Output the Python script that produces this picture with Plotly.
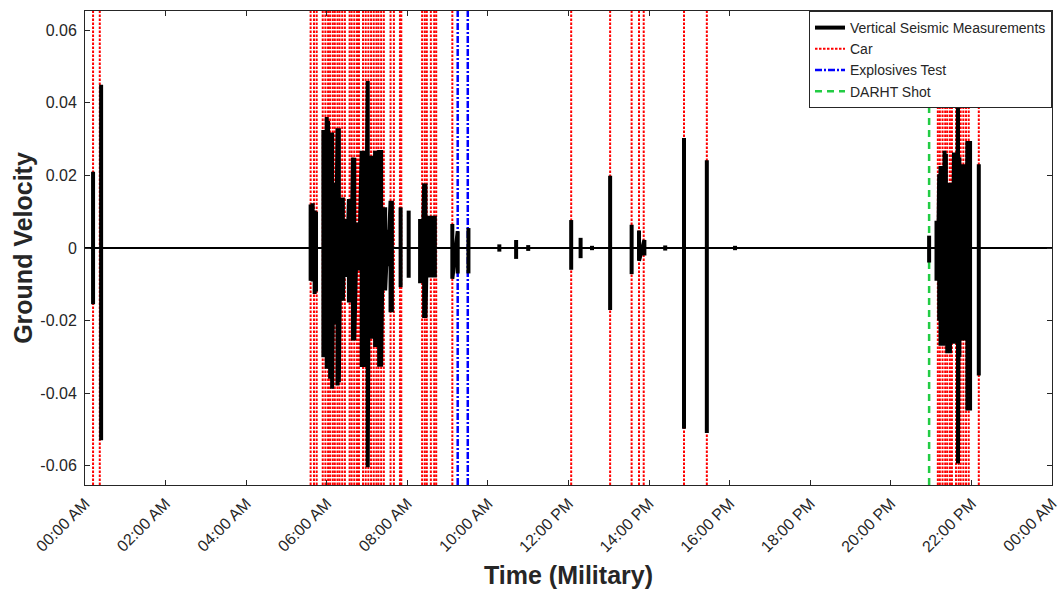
import plotly.graph_objects as go

DAY = "2020-01-01"
NEXT_DAY = "2020-01-02"

# Event marker times (HH:MM)
car_times = ["00:12", "00:22",
             "05:36", "05:41", "05:45", "05:54", "05:58", "06:02", "06:05", "06:09", "06:12",
             "06:16", "06:19", "06:23", "06:27", "06:34", "06:37", "06:41", "06:45", "06:48",
             "06:54", "06:58", "07:02", "07:06", "07:10", "07:14", "07:17", "07:21", "07:25",
             "07:35", "07:40", "07:49", "07:51", "08:22", "08:26", "08:29", "08:35", "08:40",
             "08:43", "09:07", "12:04", "13:02", "13:34", "13:45", "13:52", "14:52", "15:26",
             "21:10", "21:13", "21:17", "21:21", "21:24", "21:28", "21:31",
             "21:37", "21:41", "21:44", "21:48", "21:52", "21:56", "22:11"]
explosive_times = ["09:15", "09:30"]
darht_times = ["20:57"]

# Seismic bursts: time, positive peak, negative peak
burst_times = ["00:12", "00:24",
               "05:36", "05:39", "05:42", "05:44",
               "05:55", "05:57", "06:00", "06:02", "06:05", "06:08", "06:11", "06:13", "06:16",
               "06:18", "06:21", "06:24", "06:27", "06:30", "06:33", "06:36", "06:39", "06:41",
               "06:45", "06:48", "06:52", "06:55", "06:58", "07:01", "07:03", "07:06", "07:09",
               "07:12", "07:15", "07:18", "07:21", "07:24", "07:27", "07:31", "07:35", "07:37",
               "07:50", "08:02",
               "08:19", "08:22", "08:25", "08:27", "08:30", "08:33", "08:36", "08:39", "08:41",
               "09:07", "09:15", "09:31",
               "10:17", "10:42", "11:00", "12:04", "12:18", "12:35", "13:02", "13:34", "13:45",
               "13:53", "14:24", "14:52", "15:26", "16:08",
               "20:57",
               "21:08", "21:10", "21:12", "21:14", "21:16", "21:18", "21:20", "21:22", "21:24",
               "21:26", "21:28", "21:30", "21:32", "21:34", "21:36", "21:38", "21:40", "21:42",
               "21:44", "21:46", "21:48", "21:50", "21:52", "21:54", "21:56", "21:58",
               "22:11"]
burst_max = [0.021, 0.045,
             0.012, 0.0123, 0.0103, 0.010,
             0.0325, 0.032, 0.0361, 0.035, 0.030, 0.0318, 0.018, 0.018, 0.033,
             0.033, 0.0139, 0.0139, 0.008, 0.006, 0.0135, 0.0135, 0.0249, 0.0249,
             0.007, 0.007, 0.0268, 0.0268, 0.012, 0.046, 0.015, 0.0254, 0.0254,
             0.0268, 0.0268, 0.027, 0.027, 0.0112, 0.0112, 0.005, 0.013, 0.013,
             0.0112, 0.0103,
             0.008, 0.008, 0.0178, 0.0178, 0.0089, 0.0089, 0.0089, 0.0089, 0.0089,
             0.0066, 0.0046, 0.0055,
             0.001, 0.0022, 0.0008, 0.0077, 0.0028, 0.0006, 0.0199, 0.0064, 0.0048,
             0.0022, 0.0007, 0.0303, 0.0242, 0.0006,
             0.0034,
             0.0075, 0.0075, 0.0203, 0.0226, 0.022, 0.0226, 0.0268, 0.026, 0.018,
             0.017, 0.018, 0.0093, 0.009, 0.0263, 0.026, 0.026, 0.0405, 0.025,
             0.0231, 0.023, 0.0231, 0.0149, 0.0149, 0.0295, 0.029, 0.0295,
             0.0231]
burst_min = [-0.0155, -0.053,
             -0.009, -0.0092, -0.0127, -0.012,
             -0.0301, -0.030, -0.0333, -0.033, -0.036, -0.0388, -0.021, -0.021, -0.0379,
             -0.037, -0.0145, -0.0145, -0.008, -0.006, -0.015, -0.015, -0.0255, -0.0255,
             -0.0062, -0.0062, -0.0328, -0.0328, -0.015, -0.0604, -0.020, -0.025, -0.025,
             -0.0273, -0.0273, -0.0327, -0.0327, -0.0117, -0.0117, -0.005, -0.0177, -0.0177,
             -0.0108, -0.0082,
             -0.0097, -0.0097, -0.0193, -0.0193, -0.0081, -0.0081, -0.0081, -0.0081, -0.0081,
             -0.0085, -0.007, -0.007,
             -0.001, -0.003, -0.0008, -0.006, -0.0028, -0.0006, -0.0171, -0.0072, -0.0035,
             -0.0021, -0.0007, -0.0498, -0.051, -0.0006,
             -0.004,
             -0.009, -0.009, -0.020, -0.0269, -0.026, -0.0269, -0.0255, -0.025, -0.029,
             -0.028, -0.029, -0.017, -0.016, -0.0264, -0.026, -0.026, -0.0594, -0.030,
             -0.0255, -0.025, -0.0255, -0.0163, -0.0163, -0.0448, -0.044, -0.0448,
             -0.0351]

y_ticks = [-0.06, -0.04, -0.02, 0, 0.02, 0.04, 0.06]
y_tick_labels = ["-0.06", "-0.04", "-0.02", "0", "0.02", "0.04", "0.06"]
x_tick_hours = ["00:00", "02:00", "04:00", "06:00", "08:00", "10:00", "12:00",
                "14:00", "16:00", "18:00", "20:00", "22:00"]
x_tick_labels = ["00:00 AM", "02:00 AM", "04:00 AM", "06:00 AM", "08:00 AM", "10:00 AM",
                 "12:00 PM", "14:00 PM", "16:00 PM", "18:00 PM", "20:00 PM", "22:00 PM",
                 "00:00 AM"]

Y_LO, Y_HI = -0.0653, 0.0653
FONT = "Liberation Sans, Arial, Helvetica, sans-serif"


def ts(hhmm, day=DAY):
    return f"{day} {hhmm}"


def minutes(hhmm):
    h, m = hhmm.split(":")
    return int(h) * 60 + int(m)


def vlines(times):
    xs, ys = [], []
    for t in times:
        xs += [ts(t), ts(t), None]
        ys += [Y_LO, Y_HI, None]
    return xs, ys


fig = go.Figure()

cx, cy = vlines(car_times)
fig.add_trace(go.Scatter(x=cx, y=cy, mode="lines", name="Car", legendrank=2,
                         line=dict(color="#ff0000", width=2, dash="2.5px,1.5px"),
                         hoverinfo="skip"))
ex, ey = vlines(explosive_times)
fig.add_trace(go.Scatter(x=ex, y=ey, mode="lines", name="Explosives Test", legendrank=3,
                         line=dict(color="#0000ff", width=2.5, dash="7px,2px,2px,2px"),
                         hoverinfo="skip"))
dx, dy = vlines(darht_times)
fig.add_trace(go.Scatter(x=dx, y=dy, mode="lines", name="DARHT Shot", legendrank=4,
                         line=dict(color="#22cc44", width=2.5, dash="7px,5px"),
                         hoverinfo="skip"))

# thin baseline of the seismic record
fig.add_trace(go.Scatter(x=[ts("00:00"), ts("00:00", NEXT_DAY)], y=[0, 0], mode="lines",
                         line=dict(color="black", width=2), showlegend=False,
                         hoverinfo="skip"))

# bursts, connected within clusters
sx, sy = [], []
prev = None
for t, hi, lo in zip(burst_times, burst_max, burst_min):
    if prev is not None and minutes(t) - minutes(prev) > 8:
        sx.append(None)
        sy.append(None)
    sx += [ts(t), ts(t)]
    sy += [hi, lo]
    prev = t
fig.add_trace(go.Scatter(x=sx, y=sy, mode="lines", name="Vertical Seismic Measurements",
                         legendrank=1, line=dict(color="black", width=4),
                         hoverinfo="skip"))

tickvals = [ts(h) for h in x_tick_hours] + [ts("00:00", NEXT_DAY)]

axis_common = dict(showline=True, linecolor="#262626", linewidth=1, mirror="ticks",
                   ticks="inside", ticklen=5, tickcolor="#262626", showgrid=False,
                   zeroline=False, automargin=False,
                   tickfont=dict(family=FONT, size=16, color="#262626"))

fig.update_layout(
    width=1063, height=589,
    margin=dict(l=85, r=11, t=11, b=104),
    paper_bgcolor="white", plot_bgcolor="white",
    font=dict(family=FONT, color="#262626"),
    xaxis=dict(type="date", range=[ts("00:00"), ts("00:00", NEXT_DAY)],
               tickvals=tickvals, ticktext=x_tick_labels, tickangle=-45,
               ticklabelstandoff=2,
               title=dict(text="<b>Time (Military)</b>",
                          font=dict(family=FONT, size=25, color="#262626"), standoff=15),
               **axis_common),
    yaxis=dict(range=[Y_LO, Y_HI], tickvals=y_ticks, ticktext=y_tick_labels,
               ticklabelstandoff=4,
               title=dict(text="<b>Ground Velocity</b>",
                          font=dict(family=FONT, size=25, color="#262626"), standoff=0),
               **axis_common),
    legend=dict(x=1, y=1, xanchor="right", yanchor="top", bgcolor="white",
                bordercolor="#262626", borderwidth=1, tracegroupgap=0,
                font=dict(family=FONT, size=14, color="#262626")),
    showlegend=True,
)

fig.write_html("out.html")
